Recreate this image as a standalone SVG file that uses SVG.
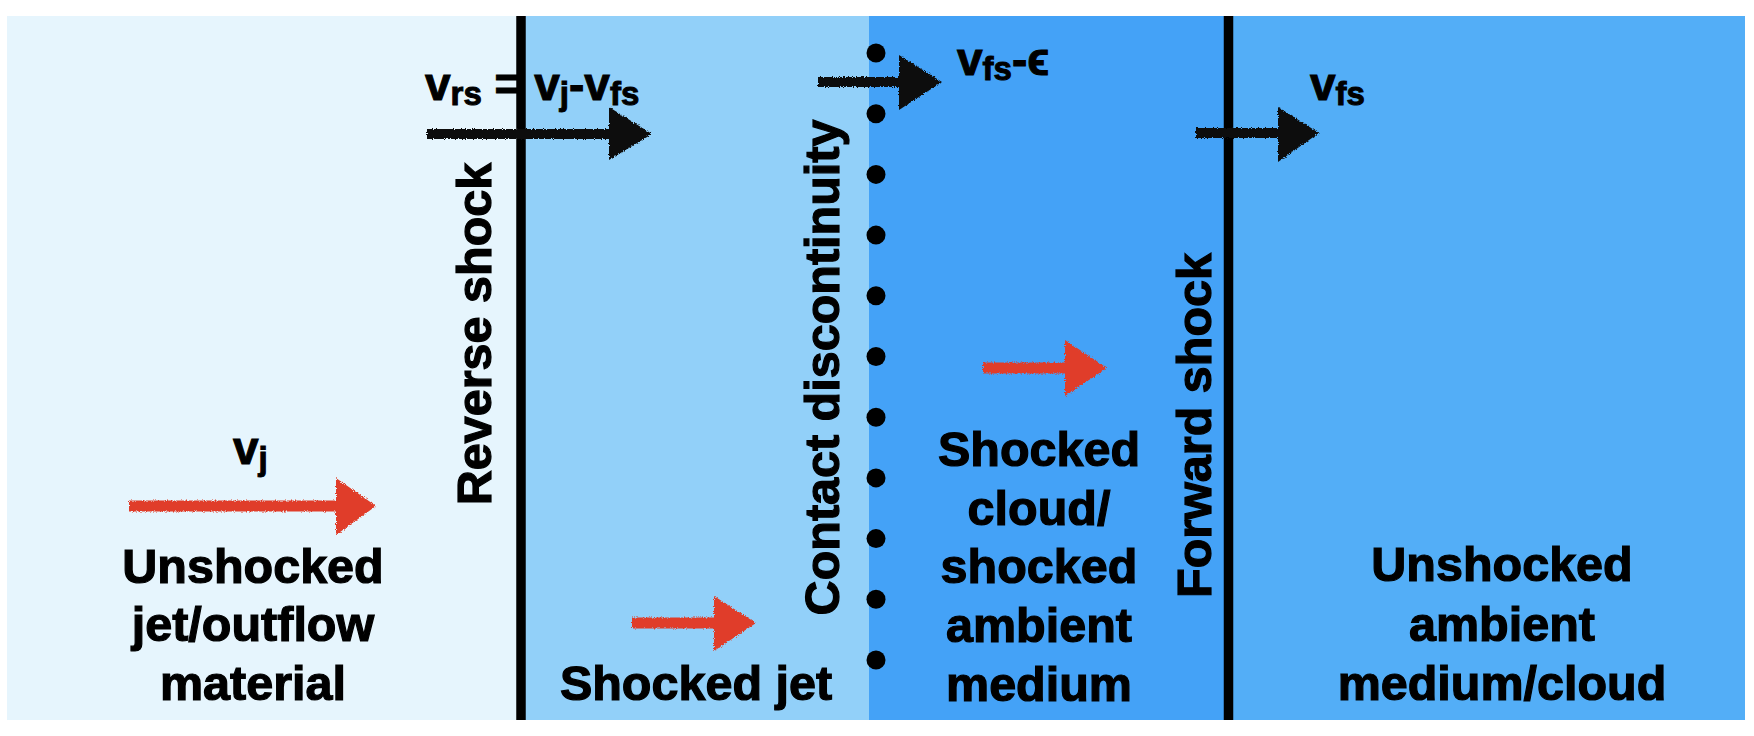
<svg xmlns="http://www.w3.org/2000/svg" width="1754" height="736" viewBox="0 0 1754 736">
  <style>
    .lbl { font-family: "Liberation Sans", Arial, "DejaVu Sans", sans-serif; font-weight: bold; font-size: 48.5px; fill: #000; stroke: #000; stroke-width: 1.2; text-anchor: middle; }
    .vel { font-family: "Liberation Sans", Arial, "DejaVu Sans", sans-serif; font-weight: bold; font-size: 46px; fill: #000; stroke: #000; stroke-width: 1; }
    .sub { font-size: 33px; }
    .shock { stroke: #000; stroke-width: 9.5; }
    .dot { fill: #000; }
    .red { fill: #E03D29; }
    .blk { fill: #111; }
  </style>
  <defs>
    <filter id="rough" x="-10%" y="-30%" width="120%" height="160%">
      <feTurbulence type="fractalNoise" baseFrequency="0.9" numOctaves="2" seed="3" result="n"/>
      <feDisplacementMap in="SourceGraphic" in2="n" scale="4" xChannelSelector="R" yChannelSelector="G"/>
    </filter>
  </defs>

  <rect x="0" y="0" width="1754" height="736" fill="#ffffff"/>

  <g id="region-unshocked-jet">
    <rect x="7" y="16" width="513" height="704" fill="#E6F5FD"/>
    <text class="lbl" x="253" y="583">Unshocked</text>
    <text class="lbl" x="253" y="641">jet/outflow</text>
    <text class="lbl" x="253" y="700">material</text>
  </g>

  <g id="region-shocked-jet">
    <rect x="520" y="16" width="349" height="704" fill="#92D0F9"/>
    <text class="lbl" x="696" y="700">Shocked jet</text>
  </g>

  <g id="region-shocked-cloud">
    <rect x="869" y="16" width="360" height="704" fill="#44A2F7"/>
    <text class="lbl" x="1039" y="466">Shocked</text>
    <text class="lbl" x="1039" y="525">cloud/</text>
    <text class="lbl" x="1039" y="583">shocked</text>
    <text class="lbl" x="1039" y="642">ambient</text>
    <text class="lbl" x="1039" y="701">medium</text>
  </g>

  <g id="region-unshocked-ambient">
    <rect x="1229" y="16" width="516" height="704" fill="#53AEF7"/>
    <text class="lbl" x="1502" y="581">Unshocked</text>
    <text class="lbl" x="1502" y="641">ambient</text>
    <text class="lbl" x="1502" y="700">medium/cloud</text>
  </g>

  <g id="reverse-shock">
    <line class="shock" x1="521" y1="16" x2="521" y2="720"/>
    <text class="lbl" transform="translate(491,334) rotate(-90)" x="0" y="0">Reverse shock</text>
  </g>

  <g id="contact-discontinuity">
    <circle class="dot" cx="876" cy="53" r="9.5"/>
    <circle class="dot" cx="876" cy="113.7" r="9.5"/>
    <circle class="dot" cx="876" cy="174.4" r="9.5"/>
    <circle class="dot" cx="876" cy="235.1" r="9.5"/>
    <circle class="dot" cx="876" cy="295.8" r="9.5"/>
    <circle class="dot" cx="876" cy="356.5" r="9.5"/>
    <circle class="dot" cx="876" cy="417.2" r="9.5"/>
    <circle class="dot" cx="876" cy="477.9" r="9.5"/>
    <circle class="dot" cx="876" cy="538.6" r="9.5"/>
    <circle class="dot" cx="876" cy="599.3" r="9.5"/>
    <circle class="dot" cx="876" cy="660" r="9.5"/>
    <text class="lbl" transform="translate(839,367.5) rotate(-90)" x="0" y="0">Contact discontinuity</text>
  </g>

  <g id="forward-shock">
    <line class="shock" x1="1228.5" y1="16" x2="1228.5" y2="720"/>
    <text class="lbl" transform="translate(1211,425.5) rotate(-90)" x="0" y="0">Forward shock</text>
  </g>

  <g id="velocity-labels">
    <text class="vel" x="233" y="464">v<tspan class="sub" dy="6">j</tspan></text>
    <text class="vel" x="425" y="100">v<tspan class="sub" dy="5">rs</tspan><tspan dy="-5"> = v</tspan><tspan class="sub" dy="5">j</tspan><tspan dy="-5">-v</tspan><tspan class="sub" dy="5">fs</tspan></text>
    <text class="vel" x="957" y="75">v<tspan class="sub" dy="5">fs</tspan><tspan dy="-5">-ϵ</tspan></text>
    <text class="vel" x="1310" y="100">v<tspan class="sub" dy="5">fs</tspan></text>
  </g>

  <g id="connectors" filter="url(#rough)">
    <path class="red" d="M129,500.5 H336 V478 L376,506 L336,535 V511.5 H129 Z"/>
    <path class="red" d="M632,617.5 H714 V596 L756,623 L714,651 V628.5 H632 Z"/>
    <path class="red" d="M983,362.5 H1065 V340 L1107,368 L1065,396 V373.5 H983 Z"/>
    <path class="blk" d="M427,129 H609 V107 L652,134 L609,160 V139 H427 Z"/>
    <path class="blk" d="M818,77 H899 V55 L942,82 L899,110 V87 H818 Z"/>
    <path class="blk" d="M1196,128 H1278 V107 L1319,133 L1278,162 V138 H1196 Z"/>
  </g>
</svg>
